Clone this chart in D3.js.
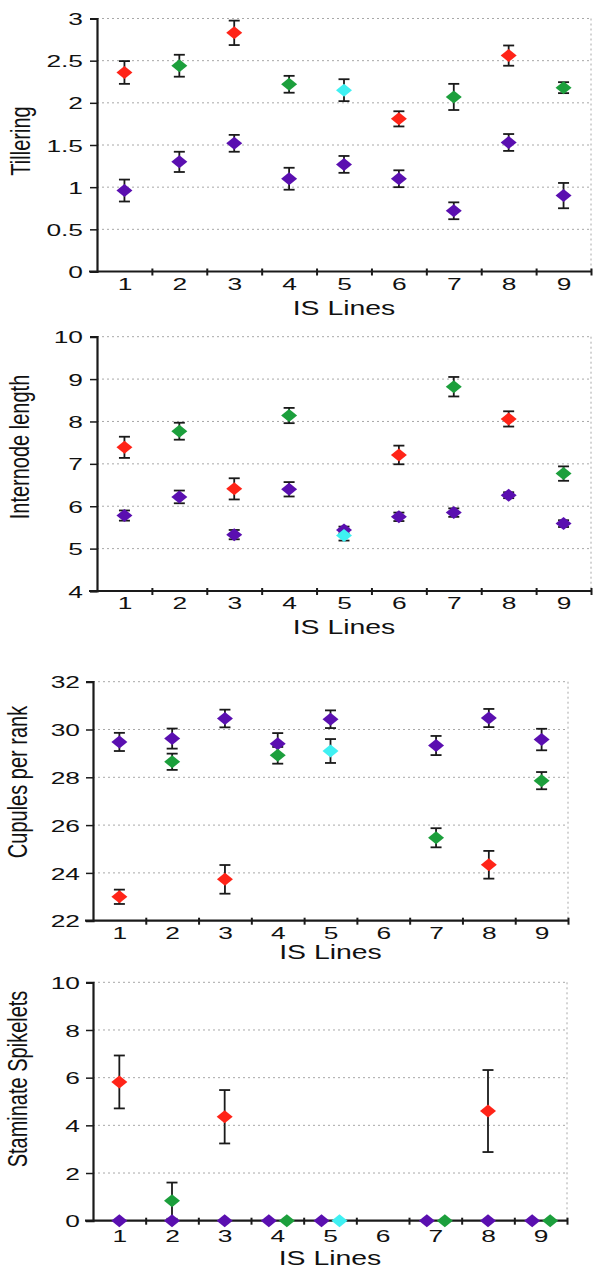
<!DOCTYPE html>
<html>
<head>
<meta charset="utf-8">
<script src="https://cdn.jsdelivr.net/npm/d3@7/dist/d3.min.js"></script>
<style>
  html, body { margin: 0; padding: 0; background: #fff; }
  svg { display: block; }
  text { font-family: "Liberation Sans", Arial, sans-serif; fill: #111; }
</style>
</head>
<body>
<svg id="chart" width="593" height="1269"></svg>
<script>
// ---------------- DATA ----------------
const categories = [1, 2, 3, 4, 5, 6, 7, 8, 9];
const xTitle = "IS Lines";

// Tillering
const tilleringTicks = [0, 0.5, 1, 1.5, 2, 2.5, 3];
const tilleringTickLabels = ["0", "0.5", "1", "1.5", "2", "2.5", "3"];
const tilleringPurple    = [0.96, 1.30, 1.52, 1.10, 1.27, 1.10, 0.72, 1.53, 0.90];
const tilleringPurpleErr = [0.13, 0.12, 0.10, 0.13, 0.10, 0.10, 0.10, 0.10, 0.15];
const tilleringRed       = [2.36, null, 2.83, null, null, 1.81, null, 2.56, null];
const tilleringRedErr    = [0.135, null, 0.145, null, null, 0.09, null, 0.12, null];
const tilleringGreen     = [null, 2.44, null, 2.22, null, null, 2.07, null, 2.18];
const tilleringGreenErr  = [null, 0.13, null, 0.10, null, null, 0.155, null, 0.065];
const tilleringCyan      = [null, null, null, null, 2.15, null, null, null, null];
const tilleringCyanErr   = [null, null, null, null, 0.13, null, null, null, null];

// Internode length
const internodeTicks = [4, 5, 6, 7, 8, 9, 10];
const internodeTickLabels = ["4", "5", "6", "7", "8", "9", "10"];
const internodePurple    = [5.78, 6.22, 5.33, 6.40, 5.44, 5.75, 5.85, 6.26, 5.59];
const internodePurpleErr = [0.12, 0.15, 0.11, 0.17, 0.08, 0.10, 0.10, 0.07, 0.08];
const internodeRed       = [7.39, null, 6.41, null, null, 7.21, null, 8.06, null];
const internodeRedErr    = [0.25, null, 0.25, null, null, 0.22, null, 0.18, null];
const internodeGreen     = [null, 7.77, null, 8.14, null, null, 8.82, null, 6.77];
const internodeGreenErr  = [null, 0.20, null, 0.18, null, null, 0.23, null, 0.17];
const internodeCyan      = [null, null, null, null, 5.31, null, null, null, null];
const internodeCyanErr   = [null, null, null, null, 0.12, null, null, null, null];

// Cupules per rank
const cupulesTicks = [22, 24, 26, 28, 30, 32];
const cupulesTickLabels = ["22", "24", "26", "28", "30", "32"];
const cupulesPurple    = [29.48, 29.62, 30.46, 29.40, 30.43, null, 29.33, 30.48, 29.58];
const cupulesPurpleErr = [0.38, 0.42, 0.37, 0.45, 0.37, null, 0.40, 0.38, 0.45];
const cupulesRed       = [23.00, null, 23.73, null, null, null, null, 24.34, null];
const cupulesRedErr    = [0.30, null, 0.60, null, null, null, null, 0.58, null];
const cupulesGreen     = [null, 28.65, null, 28.92, null, null, 25.47, null, 27.86];
const cupulesGreenErr  = [null, 0.34, null, 0.35, null, null, 0.40, null, 0.36];
const cupulesCyan      = [null, null, null, null, 29.10, null, null, null, null];
const cupulesCyanErr   = [null, null, null, null, 0.50, null, null, null, null];

// Staminate Spikelets
const staminateTicks = [0, 2, 4, 6, 8, 10];
const staminateTickLabels = ["0", "2", "4", "6", "8", "10"];
const staminatePurple    = [0, 0, 0, 0, 0, null, 0, 0, 0];
const staminatePurpleErr = [0, 0, 0, 0, 0, null, 0, 0, 0];
const staminateRed       = [5.82, null, 4.36, null, null, null, null, 4.60, null];
const staminateRedErr    = [1.11, null, 1.12, null, null, null, null, 1.72, null];
const staminateGreen     = [null, 0.84, null, 0, null, null, 0, null, 0];
const staminateGreenErr  = [null, 0.76, null, 0, null, null, 0, null, 0];
const staminateCyan      = [null, null, null, null, 0, null, null, null, null];
const staminateCyanErr   = [null, null, null, null, 0, null, null, null, null];

const colors = { purple: "#5a0fb0", red: "#ff2418", green: "#1c9f3c", cyan: "#3ff0f2" };

// ---------------- LAYOUT ----------------
const SX = 1.42;          // horizontal stretch of title lettering
const SXT = 1.55;         // horizontal stretch of tick lettering
const tickFont = 17;
const titleFont = 20;

const panels = [
  { title: "Tillering", ticks: tilleringTicks, tickLabels: tilleringTickLabels,
    x0: 97, x1: 591, yTop: 18.5, yBot: 271.5, tickLabY: 284, titleY: 308, yTitleX: 30, yTitleY: 141, yLabRight: 83,
    series: [
      { key: "purple", v: tilleringPurple, e: tilleringPurpleErr },
      { key: "red", v: tilleringRed, e: tilleringRedErr },
      { key: "green", v: tilleringGreen, e: tilleringGreenErr },
      { key: "cyan", v: tilleringCyan, e: tilleringCyanErr } ] },
  { title: "Internode length", ticks: internodeTicks, tickLabels: internodeTickLabels,
    x0: 97, x1: 591, yTop: 336.7, yBot: 591, tickLabY: 603, titleY: 627, yTitleX: 29, yTitleY: 447, yLabRight: 83,
    series: [
      { key: "purple", v: internodePurple, e: internodePurpleErr },
      { key: "red", v: internodeRed, e: internodeRedErr },
      { key: "green", v: internodeGreen, e: internodeGreenErr },
      { key: "cyan", v: internodeCyan, e: internodeCyanErr } ] },
  { title: "Cupules per rank", ticks: cupulesTicks, tickLabels: cupulesTickLabels,
    x0: 93, x1: 568, yTop: 681.7, yBot: 920.7, tickLabY: 933, titleY: 952, yTitleX: 27, yTitleY: 782, yLabRight: 80,
    series: [
      { key: "purple", v: cupulesPurple, e: cupulesPurpleErr },
      { key: "red", v: cupulesRed, e: cupulesRedErr },
      { key: "green", v: cupulesGreen, e: cupulesGreenErr },
      { key: "cyan", v: cupulesCyan, e: cupulesCyanErr } ] },
  { title: "Staminate Spikelets", ticks: staminateTicks, tickLabels: staminateTickLabels,
    x0: 93, x1: 567, yTop: 982.3, yBot: 1220.7, tickLabY: 1236, titleY: 1258, yTitleX: 27, yTitleY: 1079, yLabRight: 80,
    series: [
      { key: "purple", v: staminatePurple, e: staminatePurpleErr },
      { key: "red", v: staminateRed, e: staminateRedErr },
      { key: "green", v: staminateGreen, e: staminateGreenErr },
      { key: "cyan", v: staminateCyan, e: staminateCyanErr } ] }
];

const svg = d3.select("#chart");
const diamond = (hw, hh) => `M0,${-hh}L${hw},0L0,${hh}L${-hw},0Z`;

panels.forEach(p => {
  const g = svg.append("g");
  const x = d3.scaleLinear().domain([0.5, 9.5]).range([p.x0, p.x1]);
  const y = d3.scaleLinear().domain([p.ticks[0], p.ticks[p.ticks.length - 1]]).range([p.yBot, p.yTop]);

  // grid
  g.selectAll("line.grid").data(p.ticks.slice(1)).join("line")
    .attr("x1", p.x0).attr("x2", p.x1)
    .attr("y1", d => y(d)).attr("y2", d => y(d))
    .attr("stroke", "#a8a8a8").attr("stroke-width", 1).attr("stroke-dasharray", "2,3");
  g.append("line").attr("x1", p.x1).attr("x2", p.x1).attr("y1", p.yTop).attr("y2", p.yBot)
    .attr("stroke", "#a8a8a8").attr("stroke-width", 1).attr("stroke-dasharray", "2,3");

  // y axis
  const ya = g.append("g").attr("transform", `translate(${p.x0},0)`)
    .call(d3.axisLeft(y).tickValues(p.ticks).tickSize(7).tickFormat((d, i) => p.tickLabels[i]));
  ya.select(".domain").attr("stroke", "#1a1a1a").attr("stroke-width", 2.2);
  ya.selectAll(".tick line").attr("stroke", "#1a1a1a").attr("stroke-width", 1.5);
  ya.selectAll(".tick text")
    .attr("x", -(p.x0 - p.yLabRight) / SXT).attr("dy", "0.36em")
    .attr("transform", `scale(${SXT},1)`)
    .style("font-size", tickFont + "px").style("font-family", "'Liberation Sans', Arial, sans-serif").attr("fill", "#111");

  // x axis: boundary ticks
  const xa = g.append("g").attr("transform", `translate(0,${p.yBot})`)
    .call(d3.axisBottom(x).tickValues(d3.range(1.5, 10, 1)).tickSize(5).tickFormat(""));
  xa.select(".domain").attr("stroke", "#1a1a1a").attr("stroke-width", 2.2).attr("d", `M${p.x0 - 8},0H${p.x1}`);
  xa.selectAll(".tick line").attr("y1", -3).attr("y2", 4).attr("stroke", "#1a1a1a").attr("stroke-width", 2);

  // x labels
  const xl = g.append("g").attr("transform", `translate(0,${p.tickLabY})`)
    .call(d3.axisBottom(x).tickValues(categories).tickSize(0));
  xl.select(".domain").remove();
  xl.selectAll(".tick text").attr("y", 0).attr("dy", "0.36em")
    .attr("transform", `scale(${SXT},1)`)
    .style("font-size", tickFont + "px").style("font-family", "'Liberation Sans', Arial, sans-serif").attr("fill", "#111");

  // titles
  g.append("text")
    .attr("transform", `translate(${(p.x0 + p.x1) / 2},${p.titleY}) scale(${SX},1)`)
    .attr("text-anchor", "middle").attr("dy", "0.36em")
    .style("font-size", titleFont + "px").text(xTitle);
  g.append("text")
    .attr("transform", `translate(${p.yTitleX},${p.yTitleY}) scale(1.4,1) rotate(-90)`)
    .attr("text-anchor", "middle")
    .style("font-size", titleFont + "px").text(p.title);

  // points: dodge where two series share a category and value
  const pts = [];
  p.series.forEach((s, si) => {
    s.v.forEach((v, i) => {
      if (v === null) return;
      pts.push({ key: s.key, si, cat: categories[i], v, e: s.e[i] || 0, dx: 0 });
    });
  });
  pts.forEach(a => {
    const twin = pts.find(b => b !== a && b.cat === a.cat && b.v === a.v);
    if (twin) a.dx = a.key === "purple" ? -8.5 : 9.5;
  });

  // error bars
  const eb = pts.filter(d => d.e > 0);
  g.selectAll("line.err").data(eb).join("line")
    .attr("x1", d => x(d.cat) + d.dx).attr("x2", d => x(d.cat) + d.dx)
    .attr("y1", d => y(d.v - d.e)).attr("y2", d => y(d.v + d.e))
    .attr("stroke", "#1a1a1a").attr("stroke-width", 1.8);
  ["-", "+"].forEach(sign => {
    g.selectAll("line.cap" + (sign === "+" ? "t" : "b")).data(eb).join("line")
      .attr("x1", d => x(d.cat) + d.dx - 5.5).attr("x2", d => x(d.cat) + d.dx + 5.5)
      .attr("y1", d => y(sign === "+" ? d.v + d.e : d.v - d.e))
      .attr("y2", d => y(sign === "+" ? d.v + d.e : d.v - d.e))
      .attr("stroke", "#1a1a1a").attr("stroke-width", 1.8);
  });

  // markers
  g.selectAll("path.pt").data(pts).join("path")
    .attr("d", diamond(8, 6.5))
    .attr("transform", d => `translate(${x(d.cat) + d.dx},${y(d.v)})`)
    .attr("fill", d => colors[d.key]);
});

// faint fragment of a cropped label above the third panel
const clip = svg.append("clipPath").attr("id", "frag");
clip.append("rect").attr("x", 260).attr("y", 660).attr("width", 140).attr("height", 6);
svg.append("text").attr("clip-path", "url(#frag)")
  .attr("transform", `translate(328,664) scale(${SX},1)`)
  .attr("text-anchor", "middle").style("font-size", titleFont + "px").style("fill", "#e2e2e2")
  .text(xTitle);
</script>
</body>
</html>
